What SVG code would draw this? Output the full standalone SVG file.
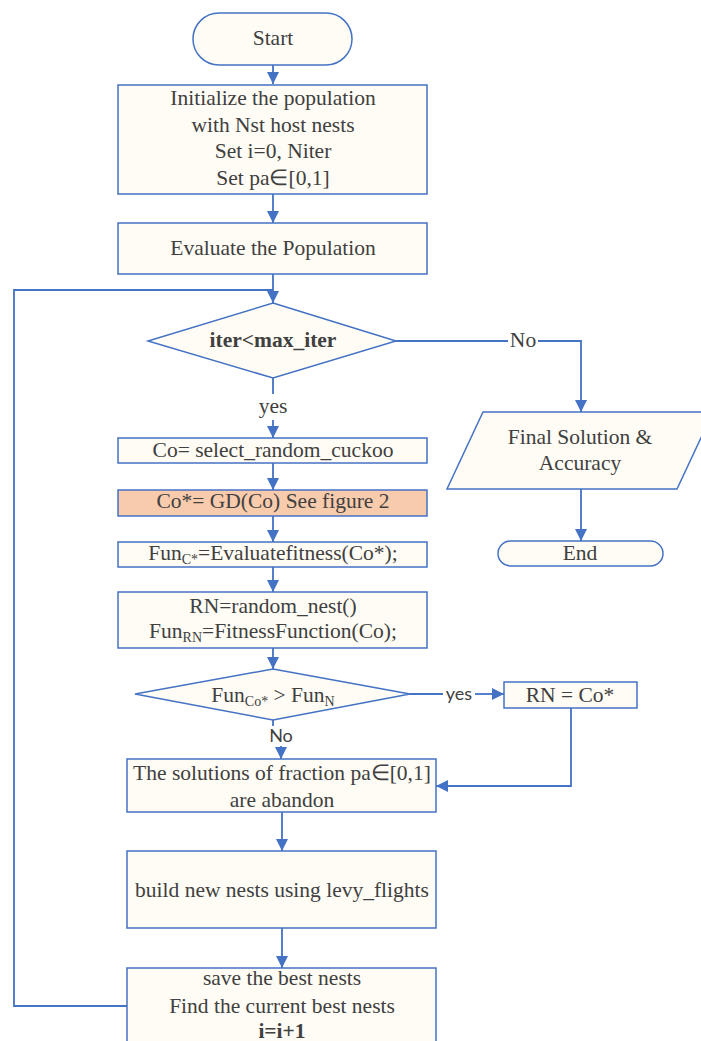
<svg xmlns="http://www.w3.org/2000/svg" width="701" height="1041" viewBox="0 0 701 1041">
<defs>
<marker id="ah" viewBox="0 0 12 12" markerWidth="12" markerHeight="12" refX="12" refY="6" orient="auto" markerUnits="userSpaceOnUse">
<path d="M0,0 L12,6 L0,12 z" fill="#4472C4"/>
</marker>
<style>
.box{fill:#FEFCF4;stroke:#4472C4;stroke-width:1.5}
.hl{fill:#F8CBAD;stroke:#4472C4;stroke-width:1.5}
.ln{fill:none;stroke:#4472C4;stroke-width:1.8}
.t{font-family:"Liberation Serif","Times New Roman",serif;font-size:21.5px;fill:#404040;text-anchor:middle}
.b{font-weight:bold}
.s{font-family:Lato,"Liberation Sans",sans-serif;font-size:18px;fill:#404040;text-anchor:middle}
.sub{font-size:14px}
</style>
</defs>
<rect width="701" height="1041" fill="#FFFFFF"/>
<g id="connectors">
<path class="ln" d="M273,65 V84" marker-end="url(#ah)"/>
<path class="ln" d="M273,194 V223" marker-end="url(#ah)"/>
<path class="ln" d="M273,274 V303" marker-end="url(#ah)"/>
<path class="ln" d="M127,1006 H14 V290 H273"/>
<path class="ln" d="M396,341 H508"/>
<path class="ln" d="M538,341 H581 V412" marker-end="url(#ah)"/>
<path class="ln" d="M581,489 V541" marker-end="url(#ah)"/>
<path class="ln" d="M273,378 V394"/>
<path class="ln" d="M273,420 V438" marker-end="url(#ah)"/>
<path class="ln" d="M273,463 V490" marker-end="url(#ah)"/>
<path class="ln" d="M273,516 V542" marker-end="url(#ah)"/>
<path class="ln" d="M273,567 V592" marker-end="url(#ah)"/>
<path class="ln" d="M273,648 V669" marker-end="url(#ah)"/>
<path class="ln" d="M410,694 H443"/>
<path class="ln" d="M475,694 H504" marker-end="url(#ah)"/>
<path class="ln" d="M571,708 V786 H436" marker-end="url(#ah)"/>
<path class="ln" d="M273,720 V726"/>
<path class="ln" d="M281,746 V759" marker-end="url(#ah)"/>
<path class="ln" d="M282,812 V851" marker-end="url(#ah)"/>
<path class="ln" d="M282,928 V968" marker-end="url(#ah)"/>
<text class="t" x="273" y="413">yes</text>
<text class="t" x="523" y="347">No</text>
<text class="s" x="459" y="700">yes</text>
<text class="s" x="281" y="742">No</text>
</g>
<g id="start">
<rect class="box" x="193" y="13" width="159" height="52" rx="26"/>
<text class="t" x="273" y="45">Start</text>
</g>
<g id="init">
<rect class="box" x="118" y="85" width="309" height="109"/>
<text class="t" x="273" y="105">Initialize the population</text>
<text class="t" x="273" y="132">with Nst host nests</text>
<text class="t" x="273" y="158">Set i=0, Niter</text>
<text class="t" x="273" y="185">Set pa∈[0,1]</text>
</g>
<g id="evaluate">
<rect class="box" x="118" y="223" width="309" height="51"/>
<text class="t" x="273" y="255">Evaluate the Population</text>
</g>
<g id="cond1">
<polygon class="box" points="273,303 396,341 273,378 148,341"/>
<text class="t b" x="273" y="347">iter&lt;max_iter</text>
</g>
<g id="final">
<polygon class="box" points="483,412 713,412 677,489 447,489"/>
<text class="t" x="580" y="444">Final Solution &amp;</text>
<text class="t" x="580" y="470">Accuracy</text>
</g>
<g id="end">
<rect class="box" x="498" y="541" width="165" height="25" rx="12.5"/>
<text class="t" x="580" y="560">End</text>
</g>
<g id="select">
<rect class="box" x="118" y="438" width="309" height="25"/>
<text class="t" x="273" y="457">Co= select_random_cuckoo</text>
</g>
<g id="gd">
<rect class="hl" x="118" y="490" width="309" height="26"/>
<text class="t" x="273" y="508">Co*= GD(Co) See figure 2</text>
</g>
<g id="evalfit">
<rect class="box" x="118" y="542" width="309" height="25"/>
<text class="t" x="273" y="560">Fun<tspan class="sub" dy="4">C*</tspan><tspan dy="-4">=Evaluatefitness(Co*);</tspan></text>
</g>
<g id="randomnest">
<rect class="box" x="118" y="592" width="309" height="56"/>
<text class="t" x="273" y="613">RN=random_nest()</text>
<text class="t" x="273" y="638">Fun<tspan class="sub" dy="4">RN</tspan><tspan dy="-4">=FitnessFunction(Co);</tspan></text>
</g>
<g id="cond2">
<polygon class="box" points="273,669 410,694 273,720 135,694"/>
<text class="t" x="273" y="702">Fun<tspan class="sub" dy="4">Co*</tspan><tspan dy="-4"> &gt; Fun</tspan><tspan class="sub" dy="4">N</tspan></text>
</g>
<g id="replace">
<rect class="box" x="504" y="682" width="133" height="26"/>
<text class="t" x="570" y="702">RN = Co*</text>
</g>
<g id="abandon">
<rect class="box" x="127" y="759" width="309" height="53"/>
<text class="t" x="282" y="780">The solutions of fraction pa∈[0,1]</text>
<text class="t" x="282" y="807">are abandon</text>
</g>
<g id="build">
<rect class="box" x="127" y="851" width="309" height="77"/>
<text class="t" x="282" y="897">build new nests using levy_flights</text>
</g>
<g id="save">
<rect class="box" x="127" y="968" width="309" height="90"/>
<text class="t" x="282" y="985">save the best nests</text>
<text class="t" x="282" y="1013">Find the current best nests</text>
<text class="t b" x="282" y="1038">i=i+1</text>
</g>
</svg>
